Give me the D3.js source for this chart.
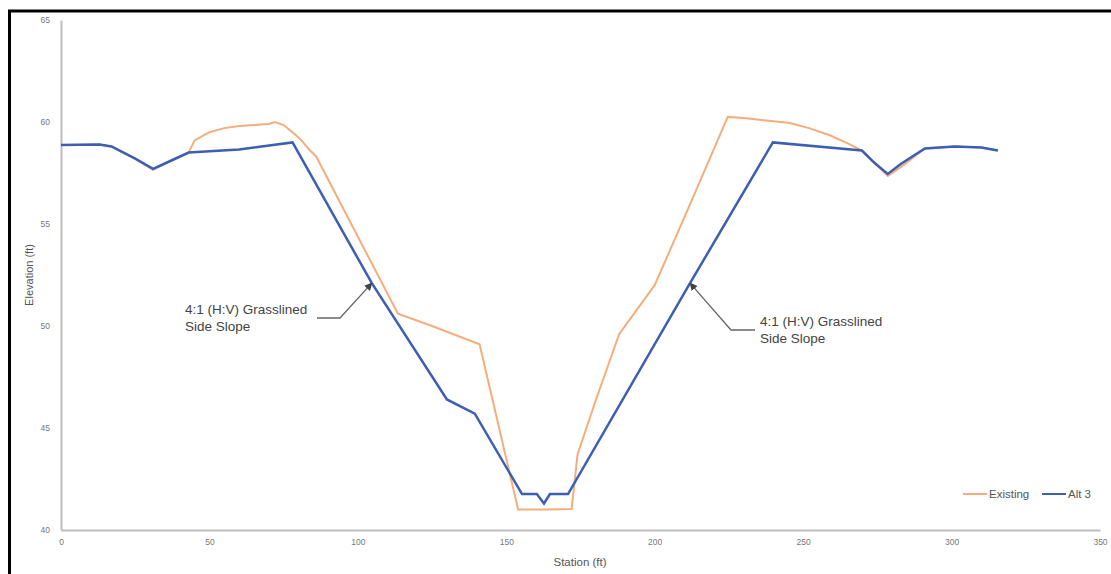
<!DOCTYPE html>
<html><head><meta charset="utf-8">
<script src="https://cdn.jsdelivr.net/npm/d3@7/dist/d3.min.js"></script>
<style>body{margin:0;background:#fff;} svg{display:block;font-family:"Liberation Sans",Arial,sans-serif;}</style>
</head><body>
<svg id="c" width="1111" height="574"></svg>
<script>
const xTicks = [0,50,100,150,200,250,300,350];
const yTicks = [40,45,50,55,60,65];
const existingStation = [0,13,17,25,31,37,43,45,50,55,60,65,70,72,75,78.8,81,83.9,86,113.5,125,141,154,163,172,174,180,188,200,212,224.6,230,245.5,252,259,265,269.8,274,278.5,283,291,301,310,315.6];
const existingElev    = [58.87,58.9,58.8,58.2,57.65,58.1,58.5,59.1,59.5,59.7,59.8,59.85,59.9,60.0,59.85,59.4,59.1,58.6,58.3,50.6,50.0,49.1,41.0,41.0,41.03,43.7,46.3,49.6,52.0,56.0,60.25,60.2,59.95,59.7,59.35,58.95,58.6,58.0,57.35,57.8,58.7,58.8,58.75,58.6];
const alt3Station = [0,13,17,25,31,37,43,60,78,104.7,130,139.4,155.3,160.3,162.7,164.7,170.8,211.9,239.8,269.8,274,278.5,283,291,301,310,315.6];
const alt3Elev    = [58.87,58.9,58.8,58.2,57.7,58.1,58.5,58.65,59.0,52.1,46.4,45.7,41.76,41.76,41.3,41.76,41.76,52.1,59.0,58.6,58.0,57.45,57.95,58.7,58.8,58.75,58.6];
const seriesNames = ["Existing","Alt 3"];
const annotations = [
  {lines:["4:1 (H:V) Grasslined","Side Slope"], st:104.7, el:52.1},
  {lines:["4:1 (H:V) Grasslined","Side Slope"], st:211.9, el:52.1}
];

const svg = d3.select("#c");
const x = d3.scaleLinear().domain([0,350]).range([61,1100]);
const y = d3.scaleLinear().domain([40,65]).range([530,20]);
const axisCol = "#bdbdbd", txtCol = "#777";
const cOrange = "#f5ad7c", cBlue = "#3d5fb3";

// frame
svg.append("rect").attr("x",9.5).attr("y",11).attr("width",1200).attr("height",700)
  .attr("fill","none").attr("stroke","#000").attr("stroke-width",3);

// axes
const gx = svg.append("g").attr("transform","translate(0,530)")
  .call(d3.axisBottom(x).tickValues(xTicks).tickSize(0).tickPadding(9));
gx.select(".domain").attr("stroke",axisCol).attr("stroke-width",2);
gx.selectAll("text").style("fill",txtCol).attr("font-size",8.5);
const gy = svg.append("g").attr("transform","translate(61,0)")
  .call(d3.axisLeft(y).tickValues(yTicks).tickSize(0).tickPadding(11));
gy.select(".domain").attr("stroke",axisCol).attr("stroke-width",2);
gy.selectAll("text").style("fill",txtCol).attr("font-size",8.5);

svg.append("text").attr("x",580).attr("y",566).attr("text-anchor","middle")
  .attr("font-size",11.5).style("fill","#555").text("Station (ft)");
svg.append("text").attr("transform","translate(33,275) rotate(-90)").attr("text-anchor","middle")
  .attr("font-size",11).style("fill","#555").text("Elevation (ft)");

const line = d3.line().x(d=>x(d[0])).y(d=>y(d[1]));
const ex = existingStation.map((s,i)=>[s,existingElev[i]]);
const al = alt3Station.map((s,i)=>[s,alt3Elev[i]]);
svg.append("path").datum(ex).attr("d",line).attr("fill","none").attr("stroke",cOrange).attr("stroke-width",2);
svg.append("path").datum(al).attr("d",line).attr("fill","none").attr("stroke",cBlue).attr("stroke-width",2.5);

// annotations
const defs = svg.append("defs");
defs.append("marker").attr("id","ah").attr("viewBox","0 0 10 10").attr("refX",9).attr("refY",5)
  .attr("markerWidth",6).attr("markerHeight",6).attr("orient","auto")
  .append("path").attr("d","M0,0 L10,5 L0,10 z").attr("fill","#444");
const a0 = annotations[0], a1 = annotations[1];
// left
svg.append("polyline").attr("points",`317,318 340,318 ${x(a0.st)},${y(a0.el)}`)
  .attr("fill","none").attr("stroke","#666").attr("stroke-width",1.3).attr("marker-end","url(#ah)");
const t0 = svg.append("text").attr("x",185).attr("y",314).attr("font-size",13.5).style("fill","#444");
a0.lines.forEach((l,i)=>t0.append("tspan").attr("x",185).attr("dy",i?17:0).text(l));
// right
svg.append("polyline").attr("points",`755,330 731,330 ${x(a1.st)},${y(a1.el)}`)
  .attr("fill","none").attr("stroke","#666").attr("stroke-width",1.3).attr("marker-end","url(#ah)");
const t1 = svg.append("text").attr("x",760).attr("y",326).attr("font-size",13.5).style("fill","#444");
a1.lines.forEach((l,i)=>t1.append("tspan").attr("x",760).attr("dy",i?17:0).text(l));

// legend
const lg = [{n:seriesNames[0],c:cOrange,x:963},{n:seriesNames[1],c:cBlue,x:1042}];
lg.forEach(d=>{
  svg.append("line").attr("x1",d.x).attr("x2",d.x+24).attr("y1",494).attr("y2",494).attr("stroke",d.c).attr("stroke-width",2);
  svg.append("text").attr("x",d.x+26).attr("y",498).attr("font-size",11.5).style("fill","#555").text(d.n);
});
</script>
</body></html>
